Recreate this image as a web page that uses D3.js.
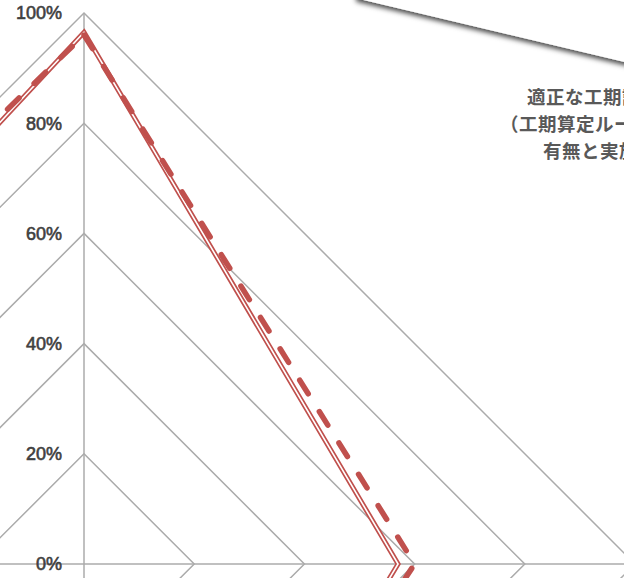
<!DOCTYPE html>
<html>
<head>
<meta charset="utf-8">
<script src="https://cdn.jsdelivr.net/npm/d3@7"></script>
<style>
  html, body { margin: 0; padding: 0; background: #fff; overflow: hidden; }
  svg { display: block; }
</style>
</head>
<body>
<svg id="chart" width="624" height="578"></svg>
<script>
// Radar axes, clockwise from the top
const categories = ["項目1", "項目2", "項目3", "項目4"];
// Series values (share, 0–1)
const seriesSolid  = [0.965, 0.57, 0.95, 0.90];
const seriesDashed = [0.96, 0.60, 0.92, 0.99];
// Value-axis rings and their labels
const ringValues = [0, 0.2, 0.4, 0.6, 0.8, 1.0];
const ringLabels = ["0%", "20%", "40%", "60%", "80%", "100%"];
// Note box text
const noteLines = ["適正な工期設定", "（工期算定ルールの", "有無と実施状況）"];

const svg = d3.select("#chart");
const cx = 84, cy = 564, R = 551;
const red = "#C0504D", grid = "#ABABAB";

const r = d3.scaleLinear().domain([0, 1]).range([0, R]);
// Evenly spaced axis angles, first axis pointing up
const angle = d3.scaleBand().domain(categories).range([0, 2 * Math.PI]).paddingInner(0).paddingOuter(0);
const ang = (i) => angle(categories[i]);

const g = svg.append("g").attr("transform", `translate(${cx},${cy})`);

const radial = d3.lineRadial()
  .angle((d, i) => ang(i))
  .radius(d => r(d))
  .curve(d3.curveLinearClosed);

// Grid rings (diamonds)
g.selectAll("path.ring")
  .data(ringValues.filter(v => v > 0))
  .join("path")
  .attr("class", "ring")
  .attr("d", v => radial(categories.map(() => v)))
  .attr("fill", "none")
  .attr("stroke", grid)
  .attr("stroke-width", 1.5);

// Radial axes
g.selectAll("line.axis")
  .data(categories)
  .join("line")
  .attr("class", "axis")
  .attr("x1", 0).attr("y1", 0)
  .attr("x2", (d, i) => r(1) * Math.sin(ang(i)))
  .attr("y2", (d, i) => -r(1) * Math.cos(ang(i)))
  .attr("stroke", grid)
  .attr("stroke-width", 1.5);

// Value labels along the top axis
g.selectAll("text.tick")
  .data(ringValues)
  .join("text")
  .attr("class", "tick")
  .attr("x", -22)
  .attr("y", v => -r(v))
  .attr("dy", "0.36em")
  .attr("text-anchor", "end")
  .attr("font-family", "Liberation Sans, Arial, sans-serif")
  .attr("font-size", 18)
  .attr("fill", "#404040")
  .attr("stroke", "#404040")
  .attr("stroke-width", 0.6)
  .text((v, i) => ringLabels[i]);

// Solid series drawn as a double line
g.append("path")
  .attr("d", radial(seriesSolid))
  .attr("fill", "none")
  .attr("stroke", red)
  .attr("stroke-width", 5)
  .attr("stroke-linejoin", "miter");
g.append("path")
  .attr("d", radial(seriesSolid))
  .attr("fill", "none")
  .attr("stroke", "#fff")
  .attr("stroke-width", 1.6)
  .attr("stroke-linejoin", "miter");

// Dashed series
g.append("path")
  .attr("d", radial(seriesDashed))
  .attr("fill", "none")
  .attr("stroke", red)
  .attr("stroke-width", 5.5)
  .attr("stroke-dasharray", "16,21")
  .attr("stroke-linecap", "round")
  .attr("stroke-linejoin", "round");

// Note box with drop shadow
const defs = svg.append("defs");
const f = defs.append("filter").attr("id", "shadow")
  .attr("x", "-20%").attr("y", "-20%").attr("width", "140%").attr("height", "160%");
f.append("feDropShadow")
  .attr("dx", 1).attr("dy", 3.5)
  .attr("stdDeviation", 2.8)
  .attr("flood-color", "#000")
  .attr("flood-opacity", 0.7);

svg.append("polygon")
  .attr("points", "355,-40 700,-40 700,80 355,-2")
  .attr("fill", "#fff")
  .attr("filter", "url(#shadow)");

svg.append("g")
  .selectAll("text")
  .data(noteLines)
  .join("text")
  .attr("x", (d, i) => [527, 500, 543][i])
  .attr("y", (d, i) => 104 + i * 27)
  .attr("font-family", "Noto Sans CJK JP, sans-serif")
  .attr("font-size", 18.5)
  .attr("font-weight", 700)
  .attr("letter-spacing", 0.5)
  .attr("fill", "#595959")
  .text(d => d);
</script>
</body>
</html>
